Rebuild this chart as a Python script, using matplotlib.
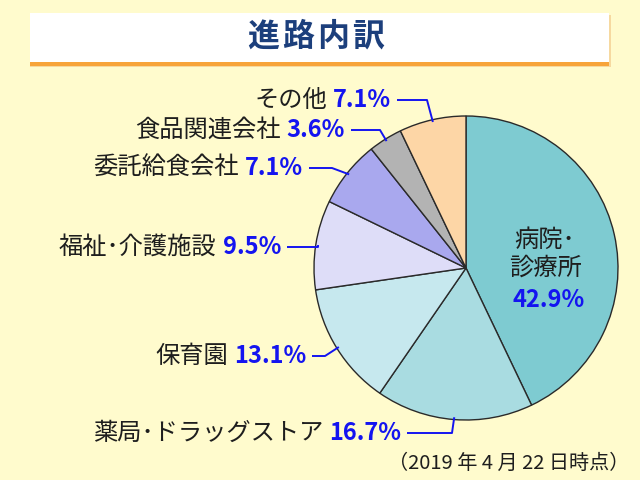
import matplotlib
matplotlib.use('Agg')
import matplotlib.pyplot as plt
from matplotlib.patches import Rectangle
import numpy as np

plt.rcParams['font.family'] = ['Noto Sans CJK JP', 'DejaVu Sans']

# data
labels = ['病院･診療所', '薬局･ドラッグストア', '保育園', '福祉･介護施設',
          '委託給食会社', '食品関連会社', 'その他']
values = [42.9, 16.7, 13.1, 9.5, 7.1, 3.6, 7.1]
colors = ['#7ECBD1', '#A9DCE1', '#C6E8EE', '#DEDDF8', '#A9A8EE', '#B3B3B3', '#FDD6A6']

title = '進路内訳'
note = '（2019 年 4 月 22 日時点）'

bg = '#FFFBCD'
blue = '#1414F0'
ink = '#1E1E1E'

fig = plt.figure(figsize=(6.4, 4.8), dpi=100, facecolor=bg)
ax = fig.add_axes([0, 0, 1, 1])

# title box
ax.add_patch(Rectangle((30, 413), 581, 52, facecolor='#F6D9A0', edgecolor='none', zorder=1))
ax.add_patch(Rectangle((30, 417), 579, 50, facecolor='white', edgecolor='none', zorder=2))
ax.add_patch(Rectangle((30, 414), 579, 4, facecolor='#F7A43A', edgecolor='none', zorder=3))
for k, ch in enumerate(title):
    ax.text(263 + k * 35, 443, ch, ha='center', va='center', fontsize=23,
            fontweight='bold', color='#1C3F7C', zorder=4)

# pie
cx, cy, r = 466, 212, 152
wedges, _ = ax.pie(values, colors=colors, startangle=90, counterclock=False,
                   center=(cx, cy), radius=r, frame=True,
                   wedgeprops=dict(edgecolor='#2A2A2A', linewidth=1.0))
ax.set_xlim(0, 640)
ax.set_ylim(0, 480)
ax.set_aspect('auto')
ax.axis('off')

# label inside biggest slice
big = labels[0].split('･')
ax.text(545, 240, big[0] + '･', ha='center', va='center', fontsize=17.5, color=ink)
ax.text(545, 212, big[1], ha='center', va='center', fontsize=17.5, color=ink)
ax.text(549, 180, f'{values[0]}%', ha='center', va='center', fontsize=17,
        fontweight='bold', color=blue)

# outside labels: (text right end x, text y, elbow x)
layout = {
    1: (401, 47, 452),
    2: (306, 124, 325),
    3: (281, 233, 318),
    4: (303, 312, 332),
    5: (345, 350, 380),
    6: (391, 380, 427),
}

fig.canvas.draw()
renderer = fig.canvas.get_renderer()
inv = ax.transData.inverted()

for i, (tx, ty, ex) in layout.items():
    w = wedges[i]
    mid = np.deg2rad((w.theta1 + w.theta2) / 2)
    px = cx + r * 0.985 * np.cos(mid)
    py = cy + r * 0.985 * np.sin(mid)
    ax.plot([tx + 6, ex, px], [ty, ty, py], color=blue, lw=1.4, zorder=5,
            solid_capstyle='butt')
    pt = ax.text(tx, ty, f'{values[i]}%', ha='right', va='center', fontsize=17,
                 fontweight='bold', color=blue)
    bb = pt.get_window_extent(renderer)
    left = inv.transform((bb.x0, bb.y0))[0]
    ax.text(left - 6, ty, labels[i], ha='right', va='center', fontsize=17.5,
            color=ink)

ax.text(629, 17, note, ha='right', va='center', fontsize=14.5, color=ink)

fig.savefig('out.png', dpi=100, facecolor=bg)
